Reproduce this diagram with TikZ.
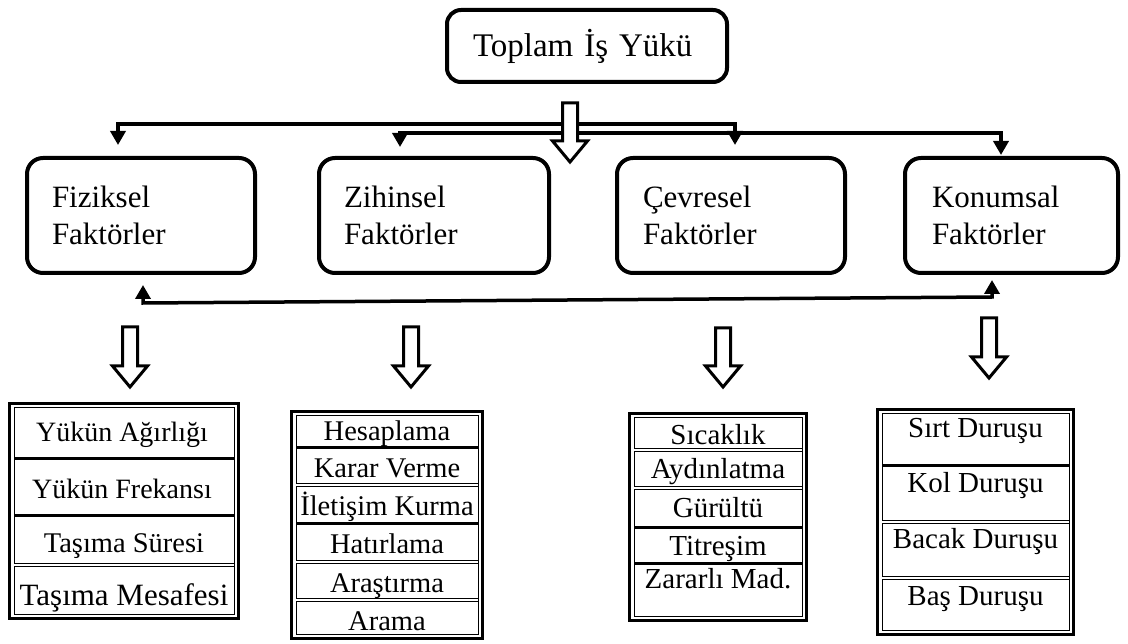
\documentclass[tikz,border=0pt]{standalone}
\usepackage{fontspec}
\setmainfont{Liberation Serif}
\usetikzlibrary{arrows.meta}
\tikzset{
  catbox/.style={draw, line width=4pt, rounded corners=16pt, minimum height=115pt,
    align=left, inner ysep=0pt, font=\fontsize{31}{37}\selectfont},
  topbox/.style={draw, line width=4pt, rounded corners=14pt, minimum width=280pt,
    minimum height=72pt, text width=228pt, align=left, inner xsep=26pt, inner ysep=0pt,
    font=\fontsize{33}{37}\selectfont},
  link/.style={line width=3.5pt, {Triangle[length=14pt,width=15pt]}-{Triangle[length=14pt,width=15pt]}},
  harrow/.style={draw, fill=white, line width=3pt, line join=miter},
  tabout/.style={line width=3pt},
  tabin/.style={line width=1pt},
  septhick/.style={line width=3pt},
  sepdouble/.style={line width=1pt, double, double distance=2pt},
  item/.style={anchor=base, inner sep=0pt, font=\fontsize{28.5}{30}\selectfont},
}
\newcommand{\hollowarr}[3]{%
  \draw[harrow] (#1-7.5,#2) -- (#1+7.5,#2) -- (#1+7.5,#3-21) -- (#1+17.5,#3-21)
    -- (#1,#3) -- (#1-17.5,#3-21) -- (#1-7.5,#3-21) -- cycle;}
\newcommand{\tablebox}[4]{%
  \draw[tabout] (#1+1.5,#2+1.5) rectangle (#3-1.5,#4-1.5);
  \draw[tabin] (#1+6,#2+6) rectangle (#3-6,#4-6);}
\newcommand{\sepline}[4]{\draw[#1] (#2+6,#4) -- (#3-6,#4);}
\begin{document}
\begin{tikzpicture}[x=1pt,y=-1pt]
\useasboundingbox (0,0) rectangle (1128,644);

% top
\node[topbox] (top) at (587,46) {Toplam İş Yükü};

% category boxes
\node[catbox, minimum width=228pt, text width=178pt, inner xsep=25pt] (fiz) at (141,215.5) {Fiziksel\\Faktörler};
\node[catbox, minimum width=230pt, text width=180pt, inner xsep=25pt] (zih) at (434,215.5) {Zihinsel\\Faktörler};
\node[catbox, minimum width=228pt, text width=176pt, inner xsep=26pt] (cev) at (731,215.5) {Çevresel\\Faktörler};
\node[catbox, minimum width=213pt, text width=159pt, inner xsep=27pt] (kon) at (1011.5,215.5) {Konumsal\\Faktörler};

% top connectors
\coordinate (c1) at (118,145);
\coordinate (c2) at (735,145);
\coordinate (c3) at (400,147);
\coordinate (c4) at (1001,155);
\draw[link] (c1) -- ++(0,-21) -| (c2);
\draw[link] (c3) -- ++(0,-14) -| (c4);

% bottom connector
\coordinate (b1) at (143,285);
\coordinate (b2) at (992,280);
\draw[link] (b1) -- (143,303) -- (992,297) -- (b2);

% hollow arrows
\hollowarr{570}{103}{162}
\hollowarr{130}{327}{387}
\hollowarr{411}{327}{387}
\hollowarr{723}{328}{387}
\hollowarr{989}{318}{378}

% table 1
\tablebox{8}{402}{240}{620}
\sepline{septhick}{8}{240}{458}
\sepline{septhick}{8}{240}{515}
\sepline{sepdouble}{8}{240}{565}
\node[item, font=\fontsize{28}{30}\selectfont] (f1) at (122,442) {Yükün Ağırlığı};
\node[item, font=\fontsize{28}{30}\selectfont] (f2) at (122,498) {Yükün Frekansı};
\node[item, font=\fontsize{28.5}{30}\selectfont] (f3) at (124,552) {Taşıma Süresi};
\node[item, font=\fontsize{31}{32}\selectfont] (f4) at (124,605) {Taşıma Mesafesi};

% table 2
\tablebox{290}{410}{484}{640}
\sepline{septhick}{290}{484}{447}
\sepline{sepdouble}{290}{484}{485}
\sepline{septhick}{290}{484}{523}
\sepline{sepdouble}{290}{484}{562}
\sepline{sepdouble}{290}{484}{600}
\node[item] (z1) at (387,440) {Hesaplama};
\node[item] (z2) at (387,477) {Karar Verme};
\node[item] (z3) at (387,515) {İletişim Kurma};
\node[item] (z4) at (387,553) {Hatırlama};
\node[item] (z5) at (387,592) {Araştırma};
\node[item] (z6) at (387,630) {Arama};

% table 3
\tablebox{628}{412}{808}{622}
\sepline{sepdouble}{628}{808}{450}
\sepline{sepdouble}{628}{808}{488}
\sepline{septhick}{628}{808}{527}
\sepline{septhick}{628}{808}{563}
\node[item, font=\fontsize{29}{30}\selectfont] (e1) at (718,445) {Sıcaklık};
\node[item, font=\fontsize{29}{30}\selectfont] (e2) at (718,478) {Aydınlatma};
\node[item, font=\fontsize{29}{30}\selectfont] (e3) at (718,517) {Gürültü};
\node[item, font=\fontsize{29}{30}\selectfont] (e4) at (718,555) {Titreşim};
\node[item, font=\fontsize{29}{30}\selectfont] (e5) at (718,588) {Zararlı Mad.};

% table 4
\tablebox{876}{408}{1075}{636}
\sepline{septhick}{876}{1075}{465}
\sepline{sepdouble}{876}{1075}{522}
\sepline{sepdouble}{876}{1075}{578}
\node[item, font=\fontsize{29}{30}\selectfont] (k1) at (975.5,438) {Sırt Duruşu};
\node[item, font=\fontsize{29}{30}\selectfont] (k2) at (975.5,492) {Kol Duruşu};
\node[item, font=\fontsize{29}{30}\selectfont] (k3) at (975.5,548) {Bacak Duruşu};
\node[item, font=\fontsize{29}{30}\selectfont] (k4) at (975.5,605) {Baş Duruşu};
\end{tikzpicture}
\end{document}
